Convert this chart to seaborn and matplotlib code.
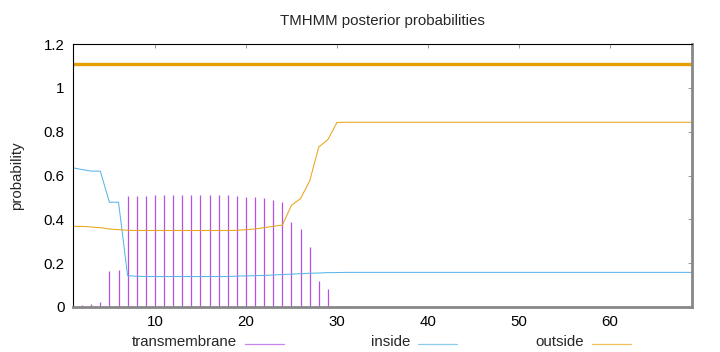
import numpy as np
import pandas as pd
import matplotlib
matplotlib.use("Agg")
import matplotlib.pyplot as plt
from matplotlib.lines import Line2D
import seaborn as sns

# residue positions and posterior probabilities
pos = list(range(1, 70))
tm = [0.0, 0.008, 0.015, 0.022, 0.164, 0.171, 0.505, 0.505, 0.507, 0.51,
      0.51, 0.511, 0.511, 0.511, 0.511, 0.511, 0.511, 0.51, 0.505, 0.502,
      0.5, 0.496, 0.487, 0.478, 0.388, 0.355, 0.276, 0.117, 0.084, 0.005,
      0.003, 0.002] + [0.0] * 37
inside = [0.635, 0.627, 0.62, 0.62, 0.478, 0.478, 0.143, 0.14, 0.139, 0.139,
          0.139, 0.139, 0.139, 0.139, 0.139, 0.139, 0.139, 0.139, 0.141, 0.142,
          0.143, 0.144, 0.146, 0.148, 0.15, 0.152, 0.154, 0.155, 0.157, 0.157] + [0.158] * 39
outside = [0.368, 0.368, 0.365, 0.362, 0.356, 0.353, 0.35, 0.349, 0.349, 0.349,
           0.349, 0.349, 0.349, 0.349, 0.349, 0.349, 0.349, 0.349, 0.35, 0.353,
           0.356, 0.362, 0.368, 0.374, 0.464, 0.495, 0.575, 0.73, 0.764, 0.842] + [0.843] * 39
# predicted topology: outside over the whole sequence
topo_x = [1, 69]
topo_y = [1.11, 1.11]

df = pd.DataFrame({"pos": pos, "tm": tm, "inside": inside, "outside": outside})

sns.set_theme(style="white")
plt.rcParams['font.family'] = ['Liberation Sans', 'DejaVu Sans']

c_tm = "#b452e4"
c_in = "#5ab6e8"
c_out = "#eaa51a"
fs = 10.8

fig = plt.figure(figsize=(7.2, 3.52), dpi=100)
ax = fig.add_axes([73 / 720, 45 / 352, 619 / 720, 263 / 352])

ax.vlines(df.pos, 0, df.tm, color=c_tm, linewidth=0.9)
sns.lineplot(data=df, x="pos", y="inside", ax=ax, color=c_in, linewidth=0.75)
sns.lineplot(data=df, x="pos", y="outside", ax=ax, color=c_out, linewidth=0.75)
sns.lineplot(x=topo_x, y=topo_y, ax=ax, color="#e69f00", linewidth=2.4)

ax.set_xlim(1, 69)
ax.set_ylim(0, 1.2)
ax.set_xticks([10, 20, 30, 40, 50, 60])
ax.set_yticks([0, 0.2, 0.4, 0.6, 0.8, 1.0, 1.2])
ax.set_yticklabels(["0", "0.2", "0.4", "0.6", "0.8", "1", "1.2"])
ax.tick_params(direction="in", length=3, width=0.6, color="#888888",
               top=True, right=True, labelsize=fs, pad=6, labelcolor="black")
ax.set_xlabel("")
ax.set_ylabel("probability", fontsize=fs, labelpad=14)
ax.set_title("TMHMM posterior probabilities", fontsize=fs, pad=14)

for s in ["top", "left"]:
    ax.spines[s].set_color("black")
    ax.spines[s].set_linewidth(0.8)
for s in ["bottom", "right"]:
    ax.spines[s].set_color("#888888")
    ax.spines[s].set_linewidth(2.0)

# legend in gnuplot style: text right-aligned, sample line after it
leg = [("transmembrane", c_tm, 237), ("inside", c_in, 410), ("outside", c_out, 584)]
for lab, col, xr in leg:
    fig.text(xr / 720, 1 - 342 / 352, lab, ha="right", va="center", fontsize=fs)
    fig.add_artist(Line2D([(xr + 8) / 720, (xr + 47) / 720], [1 - 344 / 352] * 2,
                          color=col, linewidth=0.9, alpha=0.7))

fig.savefig("out.png", dpi=100)
